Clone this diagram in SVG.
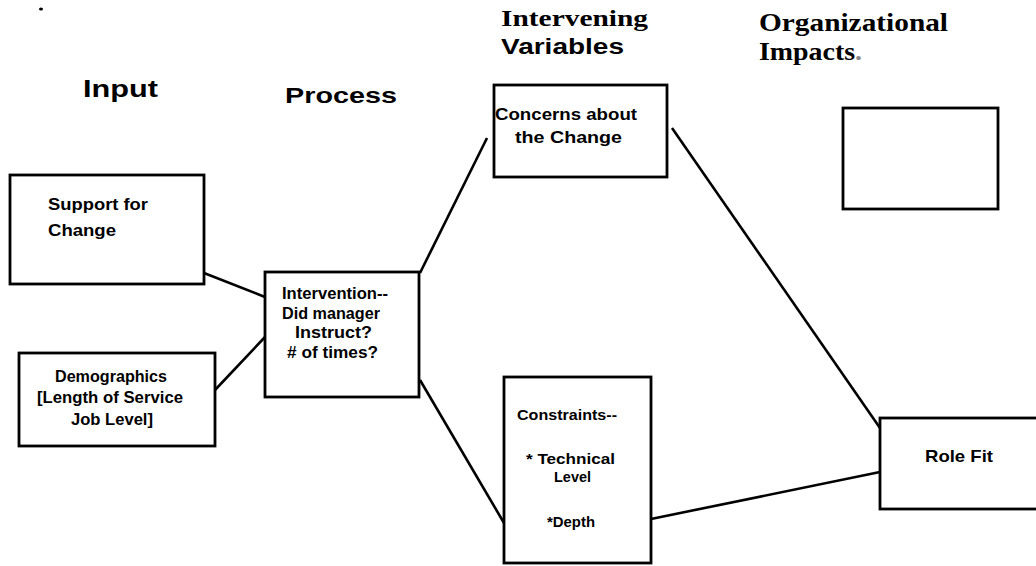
<svg xmlns="http://www.w3.org/2000/svg" width="1036" height="566" viewBox="0 0 1036 566">
  <style>
    .box { fill: #fff; stroke: #000; stroke-width: 2.8; }
    .link { stroke: #000; stroke-width: 2.6; fill: none; }
    .hd { font-family: "Liberation Sans", Arial, sans-serif; font-weight: bold; fill: #000; }
    .hds { font-family: "Liberation Serif", "Times New Roman", serif; font-weight: bold; fill: #000; }
    .t { font-family: "Liberation Sans", Arial, sans-serif; font-weight: bold; fill: #000; }
  </style>
  <rect width="1036" height="566" fill="#fff"/>

  <!-- stray mark -->
  <ellipse cx="41" cy="9" rx="2" ry="1.5" fill="#000"/>

  <!-- column headings -->
  <g id="headings">
    <text class="hd" x="83" y="97" font-size="23" textLength="75" lengthAdjust="spacingAndGlyphs">Input</text>
    <text class="hd" x="285" y="103" font-size="22" textLength="112" lengthAdjust="spacingAndGlyphs">Process</text>
    <text class="hds" x="501" y="26" font-size="23" textLength="147" lengthAdjust="spacingAndGlyphs">Intervening</text>
    <text class="hd" x="501" y="54" font-size="22" textLength="123" lengthAdjust="spacingAndGlyphs">Variables</text>
    <text class="hds" x="759" y="31" font-size="25" textLength="189" lengthAdjust="spacingAndGlyphs">Organizational</text>
    <text class="hds" x="759" y="60" font-size="25" textLength="103" lengthAdjust="spacingAndGlyphs">Impacts<tspan fill="#888">.</tspan></text>
  </g>

  <!-- connectors -->
  <g id="connectors">
    <line class="link" x1="204" y1="273" x2="265" y2="297"/>
    <line class="link" x1="215" y1="390" x2="265" y2="337"/>
    <line class="link" x1="420" y1="273" x2="487" y2="138"/>
    <line class="link" x1="420" y1="380" x2="504" y2="523"/>
    <line class="link" x1="672" y1="128" x2="880" y2="428"/>
    <line class="link" x1="651" y1="519" x2="880" y2="472"/>
  </g>

  <g id="support">
    <rect class="box" x="10" y="175" width="194" height="109"/>
    <text class="t" x="48" y="210" font-size="17" textLength="100" lengthAdjust="spacingAndGlyphs">Support for</text>
    <text class="t" x="48" y="236" font-size="17" textLength="68" lengthAdjust="spacingAndGlyphs">Change</text>
  </g>

  <g id="demographics">
    <rect class="box" x="19" y="353" width="196" height="93"/>
    <text class="t" x="55" y="382" font-size="16" textLength="112" lengthAdjust="spacingAndGlyphs">Demographics</text>
    <text class="t" x="37" y="403" font-size="16" textLength="146" lengthAdjust="spacingAndGlyphs">[Length of Service</text>
    <text class="t" x="71" y="425" font-size="16" textLength="82" lengthAdjust="spacingAndGlyphs">Job Level]</text>
  </g>

  <g id="intervention">
    <rect class="box" x="265" y="272" width="154" height="125"/>
    <text class="t" x="282" y="299" font-size="16" textLength="106" lengthAdjust="spacingAndGlyphs">Intervention--</text>
    <text class="t" x="282" y="319" font-size="16" textLength="98" lengthAdjust="spacingAndGlyphs">Did manager</text>
    <text class="t" x="295" y="338" font-size="16" textLength="77" lengthAdjust="spacingAndGlyphs">Instruct?</text>
    <text class="t" x="287" y="358" font-size="16" textLength="91" lengthAdjust="spacingAndGlyphs"># of times?</text>
  </g>

  <g id="concerns">
    <rect class="box" x="494" y="85" width="173" height="92"/>
    <text class="t" x="495" y="120" font-size="17" textLength="142" lengthAdjust="spacingAndGlyphs">Concerns about</text>
    <text class="t" x="515" y="143" font-size="17" textLength="107" lengthAdjust="spacingAndGlyphs">the Change</text>
  </g>

  <g id="constraints">
    <rect class="box" x="504" y="377" width="147" height="186"/>
    <text class="t" x="517" y="420" font-size="15" textLength="100" lengthAdjust="spacingAndGlyphs">Constraints--</text>
    <text class="t" x="526" y="464" font-size="15" textLength="89" lengthAdjust="spacingAndGlyphs">* Technical</text>
    <text class="t" x="554" y="482" font-size="15" textLength="37" lengthAdjust="spacingAndGlyphs">Level</text>
    <text class="t" x="547" y="527" font-size="15" textLength="48" lengthAdjust="spacingAndGlyphs">*Depth</text>
  </g>

  <g id="impact-empty">
    <rect class="box" x="843" y="108" width="155" height="101"/>
  </g>

  <g id="role-fit">
    <rect class="box" x="880" y="418" width="170" height="91"/>
    <text class="t" x="925" y="462" font-size="17" textLength="68" lengthAdjust="spacingAndGlyphs">Role Fit</text>
  </g>
</svg>
